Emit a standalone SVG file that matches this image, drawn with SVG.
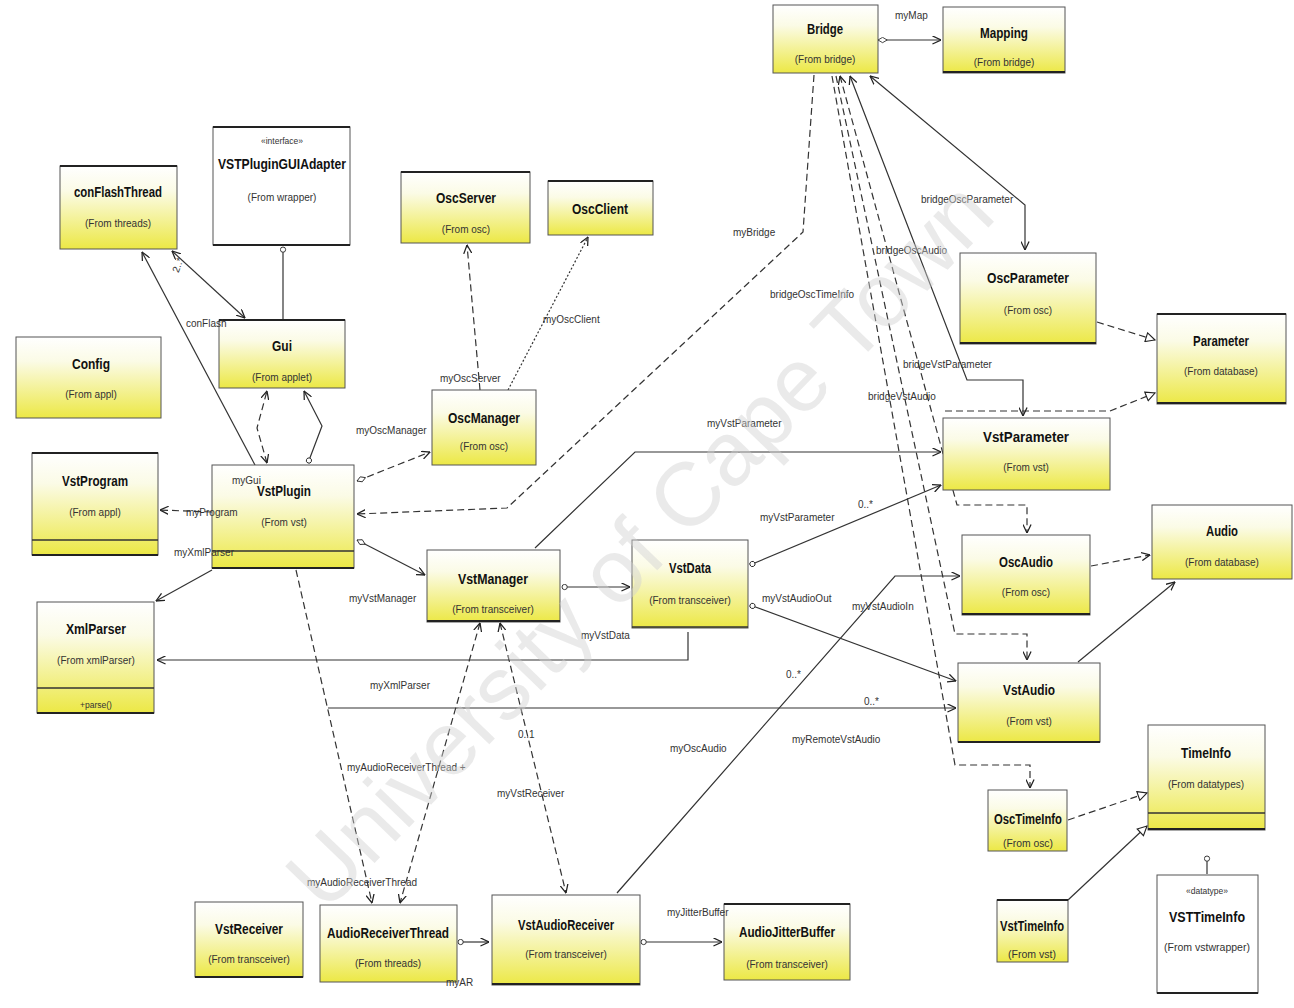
<svg xmlns="http://www.w3.org/2000/svg" width="1294" height="1008" viewBox="0 0 1294 1008">
  <defs>
    <linearGradient id="fillYellow" x1="0" y1="0" x2="0" y2="1">
      <stop offset="0" stop-color="#ffffff"/>
      <stop offset="0.3" stop-color="#fbfbe6"/>
      <stop offset="1" stop-color="#ece845"/>
    </linearGradient>
    <marker id="arrow" viewBox="0 0 10 10" refX="9.5" refY="5" markerWidth="9" markerHeight="9" orient="auto" markerUnits="userSpaceOnUse">
      <path d="M0,0.5 L9.5,5 L0,9.5" fill="none" stroke="#222" stroke-width="1.4"/>
    </marker>
    <marker id="arrowStart" viewBox="0 0 10 10" refX="0.5" refY="5" markerWidth="9" markerHeight="9" orient="auto" markerUnits="userSpaceOnUse">
      <path d="M10,0.5 L0.5,5 L10,9.5" fill="none" stroke="#222" stroke-width="1.4"/>
    </marker>
    <marker id="triangle" viewBox="0 0 12 12" refX="11" refY="6" markerWidth="11" markerHeight="11" orient="auto" markerUnits="userSpaceOnUse">
      <path d="M1,1 L11,6 L1,11 Z" fill="#fff" stroke="#222" stroke-width="1.2"/>
    </marker>
    <marker id="diamond" viewBox="0 0 12 8" refX="0.5" refY="4" markerWidth="10" markerHeight="7" orient="auto" markerUnits="userSpaceOnUse">
      <path d="M0.5,4 L6,0.8 L11.5,4 L6,7.2 Z" fill="#fff" stroke="#222" stroke-width="1"/>
    </marker>
    <marker id="circle" viewBox="0 0 8 8" refX="1" refY="4" markerWidth="7" markerHeight="7" orient="auto" markerUnits="userSpaceOnUse">
      <circle cx="4" cy="4" r="3" fill="#fff" stroke="#222" stroke-width="1"/>
    </marker>
    <marker id="circleEnd" viewBox="0 0 8 8" refX="7" refY="4" markerWidth="7" markerHeight="7" orient="auto" markerUnits="userSpaceOnUse">
      <circle cx="4" cy="4" r="3" fill="#fff" stroke="#222" stroke-width="1"/>
    </marker>
  </defs>
  <style>
    .box { fill: url(#fillYellow); stroke: #555; stroke-width: 1; }
    .plain { fill: #ffffff; stroke: #555; stroke-width: 1; }
    .edge { stroke: #222; stroke-width: 2; }
    .sep { stroke: #333; stroke-width: 1.5; }
    .title { font-family: "Liberation Sans", Arial, sans-serif; font-size: 14px; font-weight: bold; fill: #111; text-anchor: middle; }
    .sub { font-family: "Liberation Sans", Arial, sans-serif; font-size: 10px; fill: #333; text-anchor: middle; }
    .stereo { font-family: "Liberation Sans", Arial, sans-serif; font-size: 8.5px; fill: #333; text-anchor: middle; }
    .conn path { fill: none; stroke: #333; stroke-width: 1.2; }
    .conn .dash { stroke-dasharray: 7 4; }
    .conn .dot { stroke-dasharray: 2 2; }
    .lbl { font-family: "Liberation Sans", Arial, sans-serif; font-size: 10px; fill: #333; }
    .wm { font-family: "Liberation Sans", Arial, sans-serif; font-size: 90px; fill: #d0d0d0; fill-opacity: 0.45; }
  </style>

  <rect x="0" y="0" width="1294" height="1008" fill="#ffffff"/>

  <!-- associations, dependencies and generalizations -->
  <g id="connectors" class="conn">
    <path d="M878,40 H941" marker-start="url(#diamond)" marker-end="url(#arrow)"/>
    <path d="M245,318 L172,251" marker-start="url(#arrowStart)" marker-end="url(#arrow)"/>
    <path d="M255,465 L142,252" marker-end="url(#arrow)"/>
    <path d="M283,320 V247" marker-end="url(#circleEnd)"/>
    <path class="dash" d="M267,463 L257,428 L267,391" marker-start="url(#arrowStart)" marker-end="url(#arrow)"/>
    <path d="M308,463 L322,426 L304,391" marker-start="url(#circle)" marker-end="url(#arrow)"/>
    <path class="dash" d="M357,481 L430,452" marker-start="url(#diamond)" marker-end="url(#arrow)"/>
    <path class="dash" d="M480,390 L467,245" marker-end="url(#arrow)"/>
    <path class="dot" d="M508,390 L588,237" marker-end="url(#arrow)"/>
    <path class="dash" d="M814,75 L803,232 L507,508 L357,514" marker-end="url(#arrow)"/>
    <path class="dash" d="M212,512 L160,510" marker-end="url(#arrow)"/>
    <path d="M212,570 L156,601" marker-end="url(#arrow)"/>
    <path d="M357,540 L425,575" marker-start="url(#diamond)" marker-end="url(#arrow)"/>
    <path d="M535,548 L635,452 H941" marker-end="url(#arrow)"/>
    <path d="M562,587 H630" marker-start="url(#circle)" marker-end="url(#arrow)"/>
    <path d="M750,565 L941,485" marker-start="url(#circle)" marker-end="url(#arrow)"/>
    <path d="M750,605 L956,681" marker-start="url(#circle)" marker-end="url(#arrow)"/>
    <path d="M688,632 V660 H157" marker-end="url(#arrow)"/>
    <path d="M328,708 H956" marker-end="url(#arrow)"/>
    <path class="dash" d="M296,570 L372,903" marker-end="url(#arrow)"/>
    <path class="dash" d="M480,623 L400,903" marker-start="url(#arrowStart)" marker-end="url(#arrow)"/>
    <path class="dash" d="M500,623 L566,893" marker-start="url(#arrowStart)" marker-end="url(#arrow)"/>
    <path d="M617,893 L895,576 H960" marker-end="url(#arrow)"/>
    <path d="M458,942 H489" marker-start="url(#circle)" marker-end="url(#arrow)"/>
    <path d="M641,942 H722" marker-start="url(#circle)" marker-end="url(#arrow)"/>
    <path class="dash" d="M1097,322 L1155,340" marker-end="url(#triangle)"/>
    <path class="dash" d="M945,411 H1110 L1155,393" marker-end="url(#triangle)"/>
    <path d="M870,76 L1025,205 V250" marker-start="url(#arrowStart)" marker-end="url(#arrow)"/>
    <path d="M850,76 L967,380 H1023 V416" marker-start="url(#arrowStart)" marker-end="url(#arrow)"/>
    <path class="dash" d="M840,76 L957,505 H1027 V533" marker-start="url(#arrowStart)" marker-end="url(#arrow)"/>
    <path class="dash" d="M836,76 L955,634 H1027 V660" marker-end="url(#arrow)"/>
    <path class="dash" d="M832,76 L955,765 H1030 V788" marker-end="url(#arrow)"/>
    <path class="dash" d="M1091,566 L1150,555" marker-end="url(#arrow)"/>
    <path d="M1078,662 L1175,582" marker-end="url(#arrow)"/>
    <path class="dash" d="M1068,820 L1147,793" marker-end="url(#triangle)"/>
    <path d="M1068,900 L1147,826" marker-end="url(#triangle)"/>
    <path d="M1207,874 V856" marker-end="url(#circleEnd)"/>
  </g>

  <!-- classes -->
  <g id="node-bridge">
    <rect class="box" x="773" y="5" width="105" height="68"/>
    <text class="title" x="825" y="34" textLength="36" lengthAdjust="spacingAndGlyphs">Bridge</text>
    <text class="sub" x="825" y="63">(From bridge)</text>
  </g>
  <g id="node-mapping">
    <rect class="box" x="943" y="7" width="122" height="66"/>
    <line class="edge" x1="943" y1="72" x2="1065" y2="72"/>
    <text class="title" x="1004" y="38" textLength="48" lengthAdjust="spacingAndGlyphs">Mapping</text>
    <text class="sub" x="1004" y="66">(From bridge)</text>
  </g>
  <g id="node-conflashthread">
    <rect class="box" x="60" y="166" width="117" height="83"/>
    <line class="edge" x1="60" y1="166" x2="177" y2="166"/>
    <text class="title" x="118" y="197" textLength="88" lengthAdjust="spacingAndGlyphs">conFlashThread</text>
    <text class="sub" x="118" y="227">(From threads)</text>
  </g>
  <g id="node-vstpluginguiadapter">
    <rect class="plain" x="213" y="127" width="137" height="118"/>
    <line class="edge" x1="213" y1="127" x2="350" y2="127"/>
    <line class="edge" x1="213" y1="245" x2="350" y2="245"/>
    <text class="stereo" x="282" y="144">«interface»</text>
    <text class="title" x="282" y="169" textLength="128" lengthAdjust="spacingAndGlyphs">VSTPluginGUIAdapter</text>
    <text class="sub" x="282" y="201">(From wrapper)</text>
  </g>
  <g id="node-oscserver">
    <rect class="box" x="401" y="172" width="129" height="71"/>
    <line class="edge" x1="401" y1="172" x2="530" y2="172"/>
    <text class="title" x="466" y="203" textLength="60" lengthAdjust="spacingAndGlyphs">OscServer</text>
    <text class="sub" x="466" y="233">(From osc)</text>
  </g>
  <g id="node-oscclient">
    <rect class="box" x="548" y="181" width="105" height="54"/>
    <line class="edge" x1="548" y1="181" x2="653" y2="181"/>
    <text class="title" x="600" y="214" textLength="56" lengthAdjust="spacingAndGlyphs">OscClient</text>
  </g>
  <g id="node-gui">
    <rect class="box" x="219" y="320" width="126" height="68"/>
    <line class="edge" x1="219" y1="320" x2="345" y2="320"/>
    <text class="title" x="282" y="351" textLength="20" lengthAdjust="spacingAndGlyphs">Gui</text>
    <text class="sub" x="282" y="381">(From applet)</text>
  </g>
  <g id="node-config">
    <rect class="box" x="16" y="337" width="145" height="81"/>
    <text class="title" x="91" y="369" textLength="38" lengthAdjust="spacingAndGlyphs">Config</text>
    <text class="sub" x="91" y="398">(From appl)</text>
  </g>
  <g id="node-oscmanager">
    <rect class="box" x="432" y="390" width="104" height="75"/>
    <text class="title" x="484" y="423" textLength="72" lengthAdjust="spacingAndGlyphs">OscManager</text>
    <text class="sub" x="484" y="450">(From osc)</text>
  </g>
  <g id="node-vstprogram">
    <rect class="box" x="32" y="453" width="126" height="102"/>
    <line class="edge" x1="32" y1="453" x2="158" y2="453"/>
    <line class="sep" x1="32" y1="540" x2="158" y2="540"/>
    <line class="edge" x1="32" y1="555" x2="158" y2="555"/>
    <text class="title" x="95" y="486" textLength="66" lengthAdjust="spacingAndGlyphs">VstProgram</text>
    <text class="sub" x="95" y="516">(From appl)</text>
  </g>
  <g id="node-vstplugin">
    <rect class="box" x="212" y="465" width="142" height="103"/>
    <line class="sep" x1="212" y1="551" x2="354" y2="551"/>
    <line class="edge" x1="212" y1="568" x2="354" y2="568"/>
    <text class="title" x="284" y="496" textLength="54" lengthAdjust="spacingAndGlyphs">VstPlugin</text>
    <text class="sub" x="284" y="526">(From vst)</text>
  </g>
  <g id="node-xmlparser">
    <rect class="box" x="37" y="602" width="117" height="111"/>
    <line class="sep" x1="37" y1="688" x2="154" y2="688"/>
    <line class="edge" x1="37" y1="713" x2="154" y2="713"/>
    <text class="title" x="96" y="634" textLength="60" lengthAdjust="spacingAndGlyphs">XmlParser</text>
    <text class="sub" x="96" y="664">(From xmlParser)</text>
    <text class="stereo" x="96" y="708">+parse()</text>
  </g>
  <g id="node-vstmanager">
    <rect class="box" x="427" y="550" width="133" height="72"/>
    <line class="edge" x1="427" y1="621" x2="560" y2="621"/>
    <text class="title" x="493" y="584" textLength="70" lengthAdjust="spacingAndGlyphs">VstManager</text>
    <text class="sub" x="493" y="613">(From transceiver)</text>
  </g>
  <g id="node-vstdata">
    <rect class="box" x="632" y="540" width="116" height="88"/>
    <line class="sep" x1="632" y1="627" x2="748" y2="627"/>
    <text class="title" x="690" y="573" textLength="42" lengthAdjust="spacingAndGlyphs">VstData</text>
    <text class="sub" x="690" y="604">(From transceiver)</text>
  </g>
  <g id="node-oscparameter">
    <rect class="box" x="960" y="253" width="136" height="91"/>
    <line class="edge" x1="960" y1="343" x2="1096" y2="343"/>
    <text class="title" x="1028" y="283" textLength="82" lengthAdjust="spacingAndGlyphs">OscParameter</text>
    <text class="sub" x="1028" y="314">(From osc)</text>
  </g>
  <g id="node-parameter">
    <rect class="box" x="1157" y="314" width="129" height="90"/>
    <line class="edge" x1="1157" y1="314" x2="1286" y2="314"/>
    <line class="edge" x1="1157" y1="403" x2="1286" y2="403"/>
    <text class="title" x="1221" y="346" textLength="56" lengthAdjust="spacingAndGlyphs">Parameter</text>
    <text class="sub" x="1221" y="375">(From database)</text>
  </g>
  <g id="node-vstparameter">
    <rect class="box" x="943" y="418" width="167" height="72"/>
    <text class="title" x="1026" y="442" textLength="86" lengthAdjust="spacingAndGlyphs">VstParameter</text>
    <text class="sub" x="1026" y="471">(From vst)</text>
  </g>
  <g id="node-oscaudio">
    <rect class="box" x="962" y="535" width="128" height="80"/>
    <line class="edge" x1="962" y1="614" x2="1090" y2="614"/>
    <text class="title" x="1026" y="567" textLength="54" lengthAdjust="spacingAndGlyphs">OscAudio</text>
    <text class="sub" x="1026" y="596">(From osc)</text>
  </g>
  <g id="node-audio">
    <rect class="box" x="1152" y="505" width="140" height="74"/>
    <text class="title" x="1222" y="536" textLength="32" lengthAdjust="spacingAndGlyphs">Audio</text>
    <text class="sub" x="1222" y="566">(From database)</text>
  </g>
  <g id="node-vstaudio">
    <rect class="box" x="958" y="663" width="142" height="79"/>
    <line class="edge" x1="958" y1="742" x2="1100" y2="742"/>
    <text class="title" x="1029" y="695" textLength="52" lengthAdjust="spacingAndGlyphs">VstAudio</text>
    <text class="sub" x="1029" y="725">(From vst)</text>
  </g>
  <g id="node-timeinfo">
    <rect class="box" x="1148" y="725" width="117" height="105"/>
    <line class="sep" x1="1148" y1="813" x2="1265" y2="813"/>
    <line class="edge" x1="1148" y1="829" x2="1265" y2="829"/>
    <text class="title" x="1206" y="758" textLength="50" lengthAdjust="spacingAndGlyphs">TimeInfo</text>
    <text class="sub" x="1206" y="788">(From datatypes)</text>
  </g>
  <g id="node-osctimeinfo">
    <rect class="box" x="988" y="790" width="79" height="61"/>
    <text class="title" x="1028" y="824" textLength="68" lengthAdjust="spacingAndGlyphs">OscTimeInfo</text>
    <text class="sub" x="1028" y="847" textLength="50" lengthAdjust="spacingAndGlyphs">(From osc)</text>
  </g>
  <g id="node-vsttimeinfo">
    <rect class="box" x="997" y="900" width="71" height="62"/>
    <line class="edge" x1="997" y1="900" x2="1068" y2="900"/>
    <text class="title" x="1032" y="931" textLength="64" lengthAdjust="spacingAndGlyphs">VstTimeInfo</text>
    <text class="sub" x="1032" y="958" textLength="48" lengthAdjust="spacingAndGlyphs">(From vst)</text>
  </g>
  <g id="node-vsttimeinfo-datatype">
    <rect class="plain" x="1157" y="875" width="101" height="118"/>
    <line class="edge" x1="1157" y1="993" x2="1258" y2="993"/>
    <text class="stereo" x="1207" y="894">«datatype»</text>
    <text class="title" x="1207" y="922" textLength="76" lengthAdjust="spacingAndGlyphs">VSTTimeInfo</text>
    <text class="sub" x="1207" y="951" textLength="86" lengthAdjust="spacingAndGlyphs">(From vstwrapper)</text>
  </g>
  <g id="node-vstreceiver">
    <rect class="box" x="195" y="902" width="108" height="75"/>
    <line class="edge" x1="195" y1="977" x2="303" y2="977"/>
    <text class="title" x="249" y="934" textLength="68" lengthAdjust="spacingAndGlyphs">VstReceiver</text>
    <text class="sub" x="249" y="963">(From transceiver)</text>
  </g>
  <g id="node-audioreceiverthread">
    <rect class="box" x="320" y="905" width="137" height="77"/>
    <text class="title" x="388" y="938" textLength="122" lengthAdjust="spacingAndGlyphs">AudioReceiverThread</text>
    <text class="sub" x="388" y="967">(From threads)</text>
  </g>
  <g id="node-vstaudioreceiver">
    <rect class="box" x="492" y="895" width="148" height="90"/>
    <line class="edge" x1="492" y1="984" x2="640" y2="984"/>
    <text class="title" x="566" y="930" textLength="96" lengthAdjust="spacingAndGlyphs">VstAudioReceiver</text>
    <text class="sub" x="566" y="958">(From transceiver)</text>
  </g>
  <g id="node-audiojitterbuffer">
    <rect class="box" x="724" y="904" width="126" height="76"/>
    <line class="edge" x1="724" y1="904" x2="850" y2="904"/>
    <text class="title" x="787" y="937" textLength="96" lengthAdjust="spacingAndGlyphs">AudioJitterBuffer</text>
    <text class="sub" x="787" y="968">(From transceiver)</text>
  </g>

  <!-- role names and multiplicities, drawn over the class boxes -->
  <g id="connector-labels">
    <text class="lbl" x="895" y="19">myMap</text>
    <text class="lbl" x="186" y="327">conFlash</text>
    <text class="lbl" x="172" y="272" transform="rotate(-70 176 268)">2..*</text>
    <text class="lbl" x="232" y="484">myGui</text>
    <text class="lbl" x="356" y="434">myOscManager</text>
    <text class="lbl" x="440" y="382">myOscServer</text>
    <text class="lbl" x="543" y="323">myOscClient</text>
    <text class="lbl" x="733" y="236">myBridge</text>
    <text class="lbl" x="186" y="516">myProgram</text>
    <text class="lbl" x="174" y="556">myXmlParser</text>
    <text class="lbl" x="349" y="602">myVstManager</text>
    <text class="lbl" x="707" y="427">myVstParameter</text>
    <text class="lbl" x="581" y="639">myVstData</text>
    <text class="lbl" x="760" y="521">myVstParameter</text>
    <text class="lbl" x="858" y="508">0..*</text>
    <text class="lbl" x="762" y="602">myVstAudioOut</text>
    <text class="lbl" x="852" y="610">myVstAudioIn</text>
    <text class="lbl" x="370" y="689">myXmlParser</text>
    <text class="lbl" x="864" y="705">0..*</text>
    <text class="lbl" x="792" y="743">myRemoteVstAudio</text>
    <text class="lbl" x="786" y="678">0..*</text>
    <text class="lbl" x="670" y="752">myOscAudio</text>
    <text class="lbl" x="347" y="771">myAudioReceiverThread +</text>
    <text class="lbl" x="518" y="738">0..1</text>
    <text class="lbl" x="497" y="797">myVstReceiver</text>
    <text class="lbl" x="307" y="886">myAudioReceiverThread</text>
    <text class="lbl" x="446" y="986">myAR</text>
    <text class="lbl" x="667" y="916">myJitterBuffer</text>
    <text class="lbl" x="921" y="203">bridgeOscParameter</text>
    <text class="lbl" x="876" y="254">bridgeOscAudio</text>
    <text class="lbl" x="770" y="298">bridgeOscTimeInfo</text>
    <text class="lbl" x="903" y="368">bridgeVstParameter</text>
    <text class="lbl" x="868" y="400">bridgeVstAudio</text>
  </g>

  <!-- faint diagonal watermark across the sheet -->
  <text class="wm" x="640" y="575" text-anchor="middle" transform="rotate(-46 640 545)">University of Cape Town</text>
</svg>
